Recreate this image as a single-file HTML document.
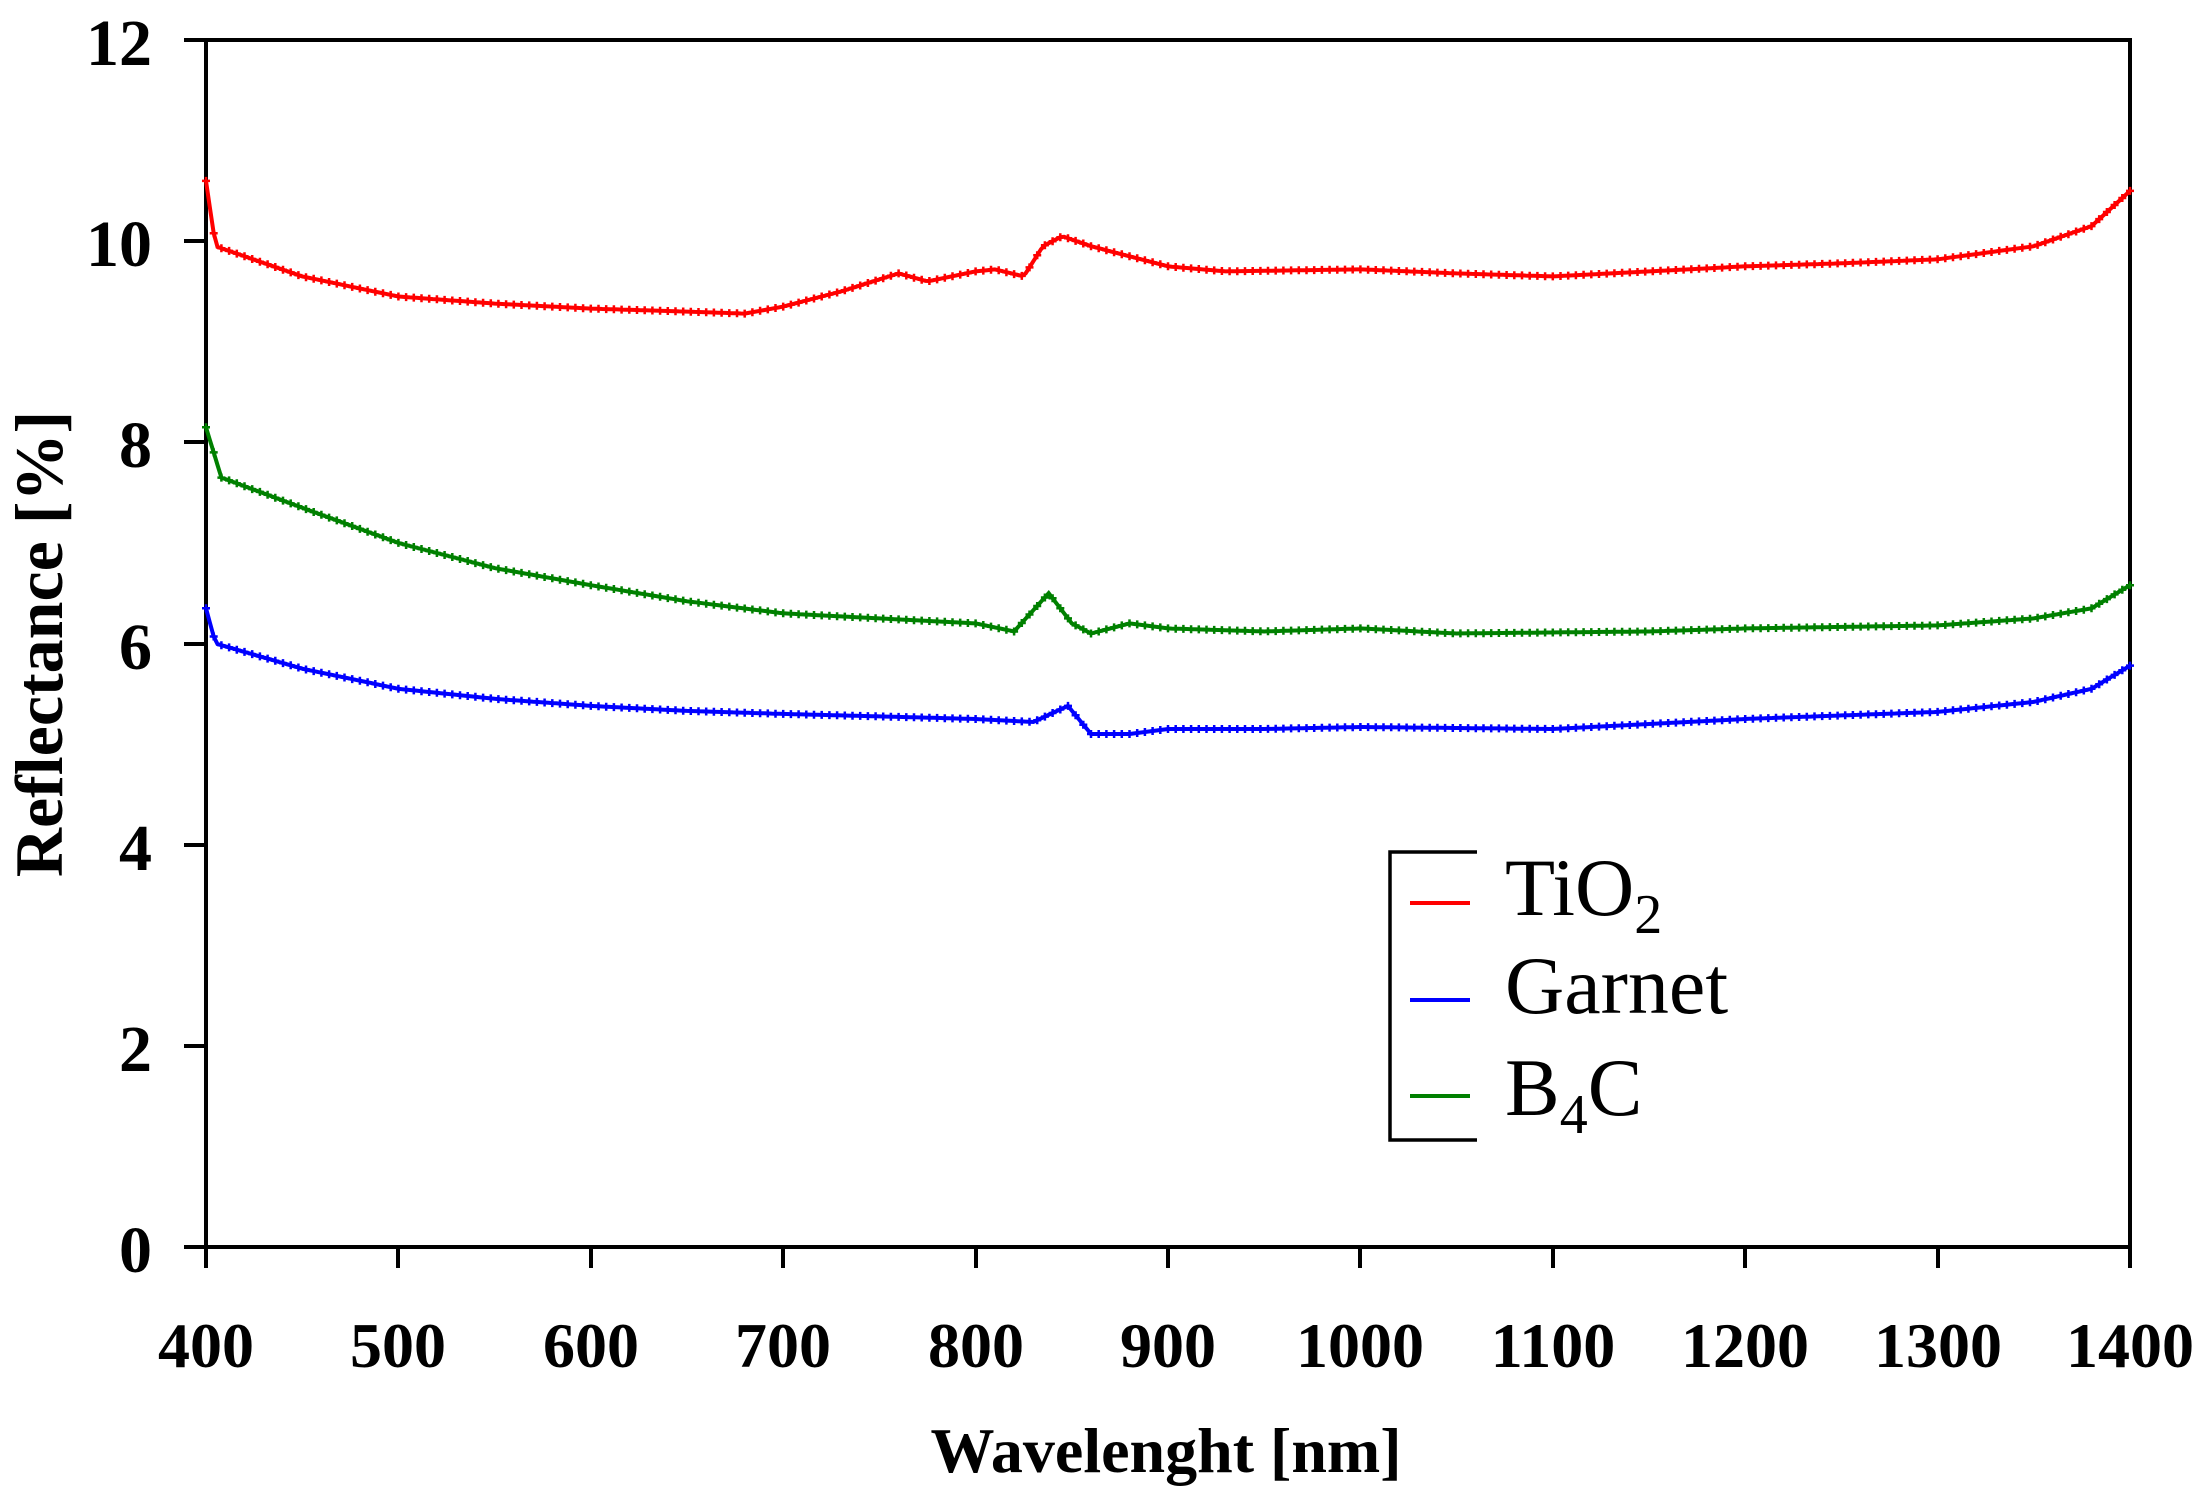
<!DOCTYPE html>
<html><head><meta charset="utf-8"><style>
html,body{margin:0;padding:0;background:#fff;}
svg{display:block;}
text{font-family:"Liberation Serif",serif;}
</style></head><body>
<svg id="s" width="2208" height="1495" xmlns="http://www.w3.org/2000/svg">
<rect width="2208" height="1495" fill="#fff"/>
<g stroke="#000" stroke-width="4" fill="none">
<rect x="206" y="40" width="1924" height="1207"/>
<path d="M184 40H206M184 241H206M184 442H206M184 644H206M184 845H206M184 1046H206M184 1247H206"/>
<path d="M206 1247V1268M398 1247V1268M591 1247V1268M783 1247V1268M976 1247V1268M1168 1247V1268M1360 1247V1268M1553 1247V1268M1745 1247V1268M1938 1247V1268M2130 1247V1268"/>
<path d="M1477 852H1390V1140H1477" stroke-width="3.5"/>
</g>
<g font-size="66" font-weight="bold" text-anchor="end">
<text x="152" y="65">12</text><text x="152" y="266">10</text><text x="152" y="467">8</text>
<text x="152" y="669">6</text><text x="152" y="870">4</text><text x="152" y="1071">2</text><text x="152" y="1272">0</text>
</g>
<g font-size="64" font-weight="bold" text-anchor="middle">
<text x="206" y="1367">400</text><text x="398" y="1367">500</text><text x="591" y="1367">600</text>
<text x="783" y="1367">700</text><text x="976" y="1367">800</text><text x="1168" y="1367">900</text>
<text x="1360" y="1367">1000</text><text x="1553" y="1367">1100</text><text x="1745" y="1367">1200</text>
<text x="1938" y="1367">1300</text><text x="2130" y="1367">1400</text>
</g>
<text x="1166" y="1472" font-size="64" font-weight="bold" text-anchor="middle">Wavelenght [nm]</text>
<text transform="translate(62,644) rotate(-90)" font-size="68" font-weight="bold" text-anchor="middle">Reflectance [%]</text>
<g stroke-width="4">
<line x1="1410" y1="903" x2="1470" y2="903" stroke="#ff0000"/>
<line x1="1410" y1="1000" x2="1470" y2="1000" stroke="#0000ff"/>
<line x1="1410" y1="1096" x2="1470" y2="1096" stroke="#008000"/>
</g>
<g font-size="82">
<text x="1505" y="915">TiO<tspan font-size="56" dy="18">2</tspan></text>
<text x="1505" y="1013">Garnet</text>
<text x="1505" y="1115">B<tspan font-size="56" dy="18">4</tspan><tspan dy="-18">C</tspan></text>
</g>
<g id="data"></g>
</svg>
<script>
var T=[[400,10.6],[405,9.95],[450,9.65],[500,9.45],[550,9.38],[600,9.33],[650,9.3],[680,9.28],[700,9.35],[730,9.5],[760,9.68],[775,9.6],[800,9.7],[810,9.72],[825,9.65],[835,9.95],[845,10.05],[860,9.95],[900,9.75],[930,9.7],[1000,9.72],[1050,9.68],[1100,9.65],[1150,9.7],[1200,9.75],[1250,9.78],[1300,9.82],[1350,9.95],[1380,10.15],[1400,10.5]];
var B=[[400,8.15],[408,7.65],[450,7.35],[500,7.0],[550,6.75],[600,6.58],[650,6.42],[700,6.3],[750,6.25],[800,6.2],[820,6.12],[838,6.5],[850,6.2],[860,6.1],[880,6.2],[900,6.15],[950,6.12],[1000,6.15],[1050,6.1],[1150,6.12],[1200,6.15],[1300,6.18],[1350,6.25],[1380,6.35],[1400,6.58]];
var G=[[400,6.35],[405,6.0],[450,5.75],[500,5.55],[550,5.45],[600,5.38],[650,5.33],[700,5.3],[800,5.25],[830,5.22],[848,5.38],[860,5.1],[880,5.1],[900,5.15],[950,5.15],[1000,5.17],[1100,5.15],[1200,5.25],[1300,5.32],[1350,5.42],[1380,5.55],[1400,5.78]];
function X(w){return 206+(w-400)*1.924}function Y(v){return 1247-v*100.58}
function interp(a,w){for(var i=0;i<a.length-1;i++){if(w>=a[i][0]&&w<=a[i+1][0]){var t=(w-a[i][0])/(a[i+1][0]-a[i][0]);return a[i][1]+t*(a[i+1][1]-a[i][1]);}}return a[a.length-1][1];}
var g=document.getElementById('data'),h='';
[[T,'#ff0000'],[G,'#0000ff'],[B,'#008000']].forEach(function(s){
 var d='',m='';
 for(var w=400;w<=1400;w+=2){var x=X(w),y=Y(interp(s[0],w));d+=(w==400?'M':'L')+x.toFixed(1)+' '+y.toFixed(1);
  if(w%4==0)m+='M'+(x-4).toFixed(1)+' '+y.toFixed(1)+'h8M'+x.toFixed(1)+' '+(y-4).toFixed(1)+'v8';}
 h+='<path d="'+d+'" fill="none" stroke="'+s[1]+'" stroke-width="4"/><path d="'+m+'" fill="none" stroke="'+s[1]+'" stroke-width="2.5"/>';
});
g.innerHTML=h;
</script>
</body></html>
